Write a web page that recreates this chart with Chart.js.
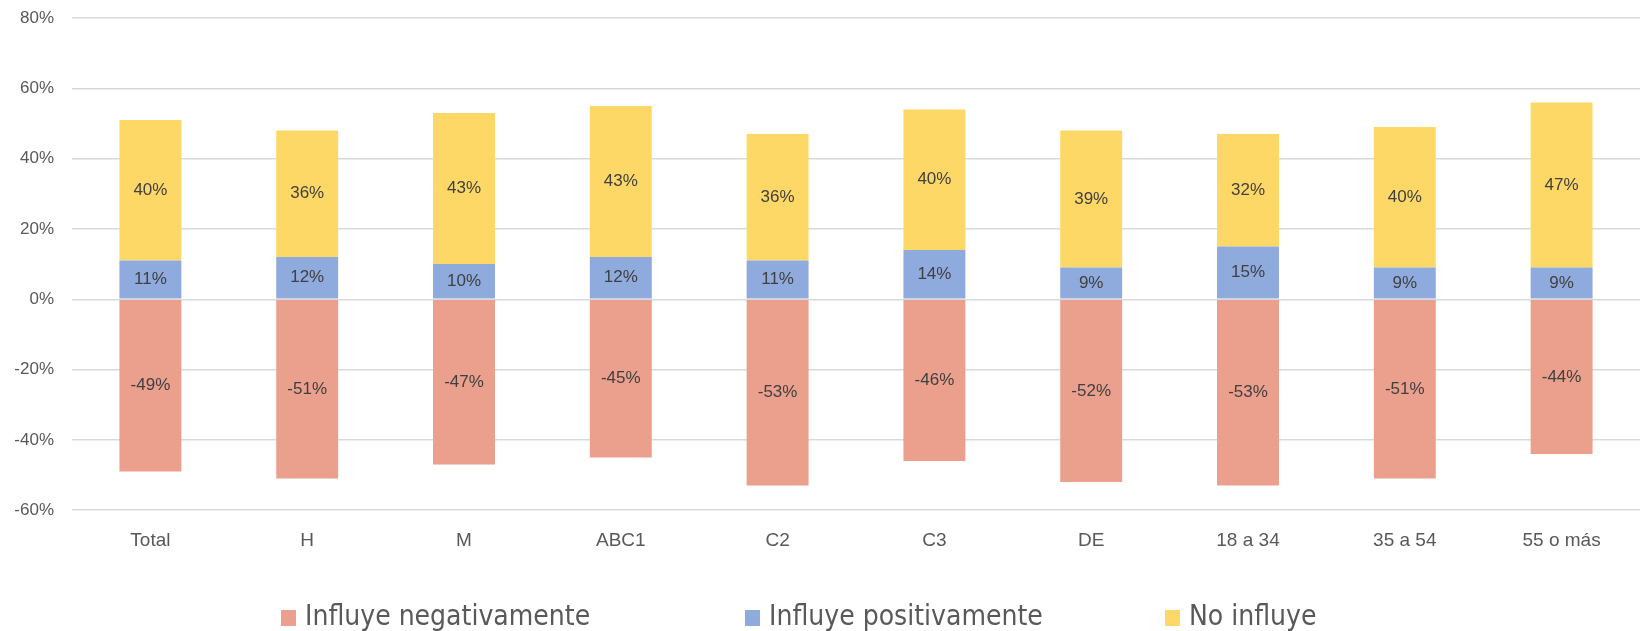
<!DOCTYPE html>
<html>
<head>
<meta charset="utf-8">
<script src="https://cdn.jsdelivr.net/npm/chart.js@4.4.1/dist/chart.umd.min.js"></script>
<style>
    html, body { margin: 0; padding: 0; background: #fff; }
    #wrap { position: relative; width: 1646px; height: 631px; }
    #legend { position: absolute; left: 0; top: 597px; width: 1646px; height: 38px; font-family: 'Liberation Sans Narrow', 'DejaVu Sans Condensed', 'Liberation Sans', sans-serif; font-size: 28px; color: #595959; }
    #legend .item { position: absolute; top: 0; white-space: nowrap; line-height: 38px; }
    #legend .box { display: inline-block; width: 15px; height: 16px; margin-right: 9px; vertical-align: -1px; }
    #legend .item:nth-child(1) { left: 281px; }
    #legend .item:nth-child(2) { left: 745px; }
    #legend .item:nth-child(3) { left: 1165px; }
</style>
</head>
<body>
<div id="wrap">
    <canvas id="myBarChart" width="1646" height="631"></canvas>
    <div id="legend"></div>
</div>
<script>
// Data grafik
const categories = ['Total', 'H', 'M', 'ABC1', 'C2', 'C3', 'DE', '18 a 34', '35 a 54', '55 o más'];
const negativo = [-49, -51, -47, -45, -53, -46, -52, -53, -51, -44];
const positivo = [11, 12, 10, 12, 11, 14, 9, 15, 9, 9];
const noInfluye = [40, 36, 43, 43, 36, 40, 39, 32, 40, 47];
const yTicks = [-60, -40, -20, 0, 20, 40, 60, 80];

// plugin kecil untuk label di tengah tiap segmen
const segmentLabels = {
    id: 'segmentLabels',
    afterDatasetsDraw(chart) {
        const ctx = chart.ctx;
        ctx.save();
        ctx.font = '17px "Liberation Sans", sans-serif';
        ctx.fillStyle = '#404040';
        ctx.textAlign = 'center';
        ctx.textBaseline = 'middle';
        chart.data.datasets.forEach(function(ds, i) {
            const meta = chart.getDatasetMeta(i);
            meta.data.forEach(function(bar, j) {
                const p = bar.getProps(['x', 'y', 'base'], true);
                ctx.fillText(ds.data[j] + '%', p.x, (p.y + p.base) / 2);
            });
        });
        ctx.restore();
    }
};

const config = {
    type: 'bar',
    data: {
        labels: categories,
        datasets: [{
                label: 'Influye negativamente',
                data: negativo,
                backgroundColor: '#EAA08D'
            },
            {
                label: 'Influye positivamente',
                data: positivo,
                backgroundColor: '#8FAADC'
            },
            {
                label: 'No influye',
                data: noInfluye,
                backgroundColor: '#FED866'
            }
        ]
    },
    options: {
        responsive: false,
        animation: false,
        layout: {
            autoPadding: false,
            padding: { left: 14, right: 6, top: 18, bottom: 60 }
        },
        datasets: {
            bar: { categoryPercentage: 1, barPercentage: 0.395 }
        },
        plugins: {
            legend: { display: false },
            tooltip: { enabled: false }
        },
        scales: {
            x: {
                stacked: true,
                grid: { display: false, drawTicks: false },
                border: { display: false },
                ticks: {
                    padding: 19,
                    color: '#595959',
                    font: { family: '"Liberation Sans", sans-serif', size: 19 }
                }
            },
            y: {
                stacked: true,
                min: yTicks[0],
                max: yTicks[yTicks.length - 1],
                afterBuildTicks: function(axis) {
                    axis.ticks = yTicks.map(function(v) { return { value: v }; });
                },
                afterFit: function(axis) {
                    axis.width = 58;
                    axis.paddingTop = 0;
                    axis.paddingBottom = 0;
                },
                grid: { color: '#D9D9D9', lineWidth: 1.5, drawTicks: false },
                border: { display: false },
                ticks: {
                    padding: 18,
                    color: '#595959',
                    font: { family: '"Liberation Sans", sans-serif', size: 17 },
                    callback: function(v) { return v + '%'; }
                }
            }
        }
    },
    plugins: [segmentLabels]
};

const ctx = document.getElementById('myBarChart').getContext('2d');
const chart = new Chart(ctx, config);

// legenda HTML
const legend = document.getElementById('legend');
legend.innerHTML = '';
chart.data.datasets.forEach(function(ds) {
    legend.innerHTML += `<span class="item"><span class="box" style="background:${ds.backgroundColor}"></span>${ds.label}</span>`;
});
</script>
</body>
</html>
